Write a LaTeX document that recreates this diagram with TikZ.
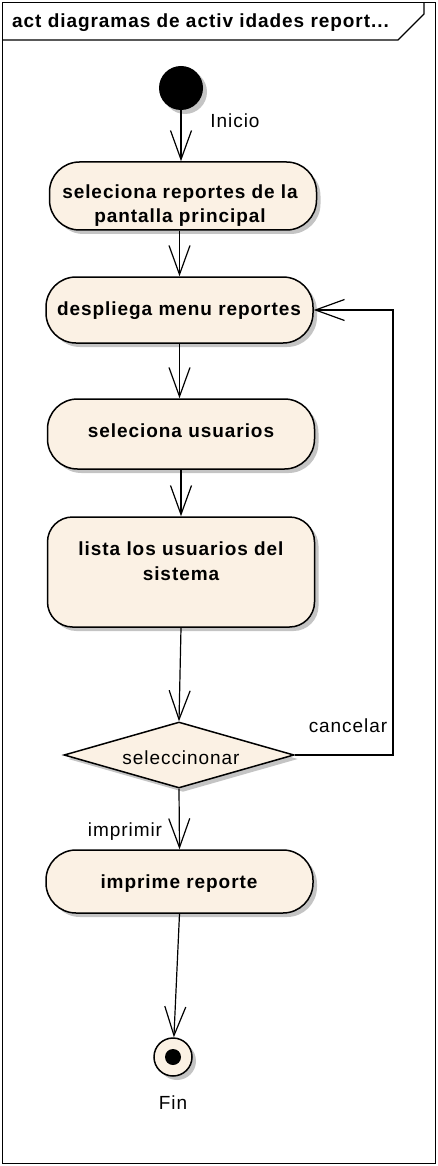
\documentclass[tikz,border=0pt]{standalone}
\usepackage{fontspec}
\setmainfont{Liberation Sans}[LetterSpace=5]
\usetikzlibrary{arrows.meta,shapes.geometric,shadows}
\definecolor{cream}{RGB}{251,241,228}
\definecolor{shadowgray}{RGB}{196,196,196}
\begin{document}
\begin{tikzpicture}[x=1pt,y=-1pt,
  shad/.style={drop shadow={shadow xshift=4pt,shadow yshift=-4pt,fill=shadowgray,opacity=1}},
  act/.style={draw,line width=1.5pt,fill=cream,rounded corners=30pt,minimum width=267pt,inner sep=0pt,shad},
  flow/.style={line width=1.2pt,-{Straight Barb[length=29pt,width=21pt,line width=1.2pt]}},
  bt/.style={font=\fontsize{19}{22}\selectfont\bfseries,anchor=base,inner sep=0pt},
  nt/.style={font=\fontsize{19}{22}\selectfont,anchor=base,inner sep=0pt}]
\useasboundingbox (0,0) rectangle (438,1166);
% frame
\draw[line width=1.2pt] (2.5,2.5) rectangle (435.5,1163.5);
\draw[line width=1.2pt] (2.5,40) -- (398,40) -- (424,14) -- (424,2.5);
\node[bt,anchor=base west] (title) at (12,28) {act diagramas de activ idades report...};
% nodes
\node[circle,fill=black,minimum size=44pt,inner sep=0pt,shad] (start) at (181,88) {};
\node[nt] (inicio) at (235,128) {Inicio};
\node[act,minimum height=68pt] (b1) at (183,196) {};
\node[bt] (b1t1) at (180,199) {seleciona reportes de la};
\node[bt] (b1t2) at (180,223) {pantalla principal};
\node[act,minimum height=66pt] (b2) at (179.5,310) {};
\node[bt] (b2t) at (179,315) {despliega menu reportes};
\node[act,minimum height=70pt] (b3) at (181,434) {};
\node[bt] (b3t) at (181,437) {seleciona usuarios};
\node[act,minimum height=110pt,rounded corners=25pt] (b4) at (181,572) {};
\node[bt] (b4t1) at (181,555) {lista los usuarios del};
\node[bt] (b4t2) at (181,580) {sistema};
\node[diamond,draw,line width=1.5pt,fill=cream,minimum width=230pt,minimum height=66pt,inner sep=0pt,shad] (dia) at (179,755) {};
\node[nt] (diat) at (181,764) {seleccinonar};
\node[act,minimum height=63pt] (b5) at (179.5,881.5) {};
\node[bt] (b5t) at (179,888) {imprime reporte};
\node[circle,draw,line width=1.5pt,fill=cream,minimum size=38pt,inner sep=0pt,shad] (fin) at (173,1057) {};
\fill[black] (fin.center) circle[radius=8];
\node[nt] (fint) at (173,1109) {Fin};
\coordinate (rt) at (393,310);
\node[nt] (cancel) at (348,732) {cancelar};
\node[nt] (impr) at (125,836) {imprimir};
% connectors
\draw[flow] (start) -- (start |- b1.north);
\draw[flow] (b2.north |- b1.south) -- (b2.north);
\draw[flow] (b2.south) -- (b2.south |- b3.north);
\draw[flow] (b3.south) -- (b4.north);
\draw[flow] (b4.south) -- (dia.north);
\draw[flow] (dia.east) -| (rt) -- (b2.east);
\draw[flow] (dia.south) -- (b5.north);
\draw[flow] (b5.south) -- (fin);
\end{tikzpicture}
\end{document}
